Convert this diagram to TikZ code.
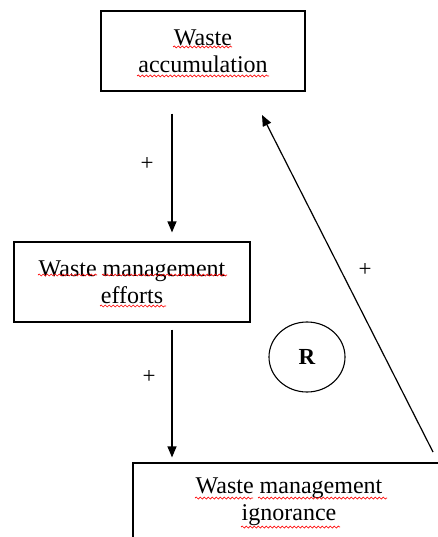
\documentclass[tikz,border=0pt]{standalone}
\usepackage{fontspec}
\setmainfont{Liberation Serif}
\usetikzlibrary{arrows.meta,decorations.pathmorphing,shapes.geometric}
\begin{document}
\begin{tikzpicture}[x=1pt,y=-1pt,
  box/.style={draw, line width=1.2pt, align=center, inner sep=0pt,
    font=\fontsize{24}{27}\selectfont},
  arr/.style={line width=1.2pt, -{Triangle[length=11pt,width=9pt]}},
  sign/.style={font=\fontsize{23}{23}\selectfont, inner sep=0pt},
  squig/.style={red, line width=0.7pt, decorate,
    decoration={snake, segment length=4pt, amplitude=1pt}}]
\useasboundingbox (0,0) rectangle (438,537);
\clip (0,0) rectangle (438,537);
\fill[white] (0,0) rectangle (438,537);
% boxes
\node[box, minimum width=204pt, minimum height=80pt] (b1) at (203,51) {Waste\\accumulation};
\node[box, minimum width=236pt, minimum height=80pt] (b2) at (132,282) {Waste management\\efforts};
\node[box, minimum width=312pt, minimum height=78pt] (b3) at (289,502) {Waste management\\ignorance};
% loop marker
\node[draw, line width=1.1pt, ellipse, minimum width=76pt, minimum height=70pt, inner sep=0pt,
  font=\bfseries\fontsize{23}{23}\selectfont] (r) at (307,357) {R};
% connectors
\coordinate (c1) at (172,0);
\draw[arr, shorten <=22pt, shorten >=9pt] (b1.south -| c1) -- (b2.north -| c1);
\draw[arr, shorten <=7pt, shorten >=5pt] (b2.south -| c1) -- (b3.north -| c1);
\coordinate (s3) at (433,452);
\coordinate (e1) at (262,115);
\draw[arr] (s3) -- (e1);
% signs
\node[sign] (p1) at (147,164) {+};
\node[sign] (p2) at (149,377) {+};
\node[sign] (p3) at (365,270) {+};
% spell-check underlines
\draw[squig] (173,47) -- (232,47);
\draw[squig] (137,76) -- (269,76);
\draw[squig] (38,275) -- (97,275);
\draw[squig] (102,275) -- (227,275);
\draw[squig] (100,306) -- (166,306);
\draw[squig] (195,498) -- (253,498);
\draw[squig] (258,498) -- (387,498);
\draw[squig] (241,527) -- (340,527);
\end{tikzpicture}
\end{document}
